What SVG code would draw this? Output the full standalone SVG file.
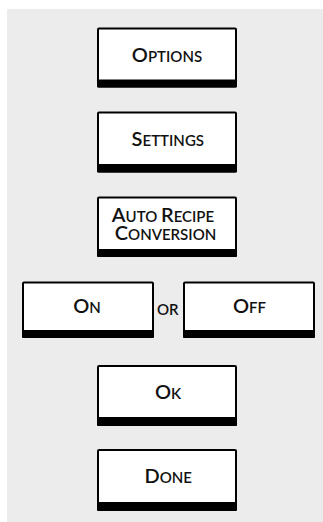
<svg xmlns="http://www.w3.org/2000/svg" width="323" height="522" viewBox="0 0 323 522">
<style>
.bg{fill:#ececec}
.box{fill:#fff;stroke:#000;stroke-width:2}
.bar{fill:#000}
.t{font-family:Lato,"Open Sans",sans-serif;font-weight:600;fill:#111;text-anchor:middle}
.b{font-size:20px}
.s{font-size:15px}
</style>
<rect class="bg" x="7" y="9" width="316" height="513"/>
<g id="options">
<rect class="box" x="98" y="28.5" width="138" height="58" rx="1"/>
<rect class="bar" x="97" y="79.5" width="140" height="8" rx="1"/>
<text class="t" x="167" y="61.7"><tspan class="b">O</tspan><tspan class="s">PTIONS</tspan></text>
</g>
<g id="settings">
<rect class="box" x="98" y="112.5" width="138" height="59" rx="1"/>
<rect class="bar" x="97" y="164" width="140" height="8.5" rx="1"/>
<text class="t" x="167.8" y="146"><tspan class="b">S</tspan><tspan class="s">ETTINGS</tspan></text>
</g>
<g id="auto-recipe">
<rect class="box" x="98" y="197.5" width="138" height="58.5" rx="1"/>
<rect class="bar" x="97" y="249" width="140" height="8" rx="1"/>
<text class="t" x="163" y="222"><tspan class="b">A</tspan><tspan class="s">UTO </tspan><tspan class="b">R</tspan><tspan class="s">ECIPE</tspan></text>
<text class="t" x="165.5" y="239.5"><tspan class="b">C</tspan><tspan class="s">ONVERSION</tspan></text>
</g>
<g id="on">
<rect class="box" x="23" y="282.5" width="130" height="54.5" rx="1"/>
<rect class="bar" x="22" y="330" width="132" height="8" rx="1"/>
<text class="t" x="87" y="313.3"><tspan class="b">O</tspan><tspan class="s">N</tspan></text>
</g>
<text id="or" class="t s" x="167.7" y="315">OR</text>
<g id="off">
<rect class="box" x="184" y="282.5" width="130" height="54.5" rx="1"/>
<rect class="bar" x="183" y="330" width="132" height="8" rx="1"/>
<text class="t" x="249.5" y="313.3"><tspan class="b">O</tspan><tspan class="s">FF</tspan></text>
</g>
<g id="ok">
<rect class="box" x="98" y="366" width="138" height="59" rx="1"/>
<rect class="bar" x="97" y="417" width="140" height="9" rx="1"/>
<text class="t" x="168" y="399.3"><tspan class="b">O</tspan><tspan class="s">K</tspan></text>
</g>
<g id="done">
<rect class="box" x="98" y="450" width="138" height="59.5" rx="1"/>
<rect class="bar" x="97" y="502" width="140" height="9" rx="1"/>
<text class="t" x="168.3" y="483.3"><tspan class="b">D</tspan><tspan class="s">ONE</tspan></text>
</g>
</svg>
